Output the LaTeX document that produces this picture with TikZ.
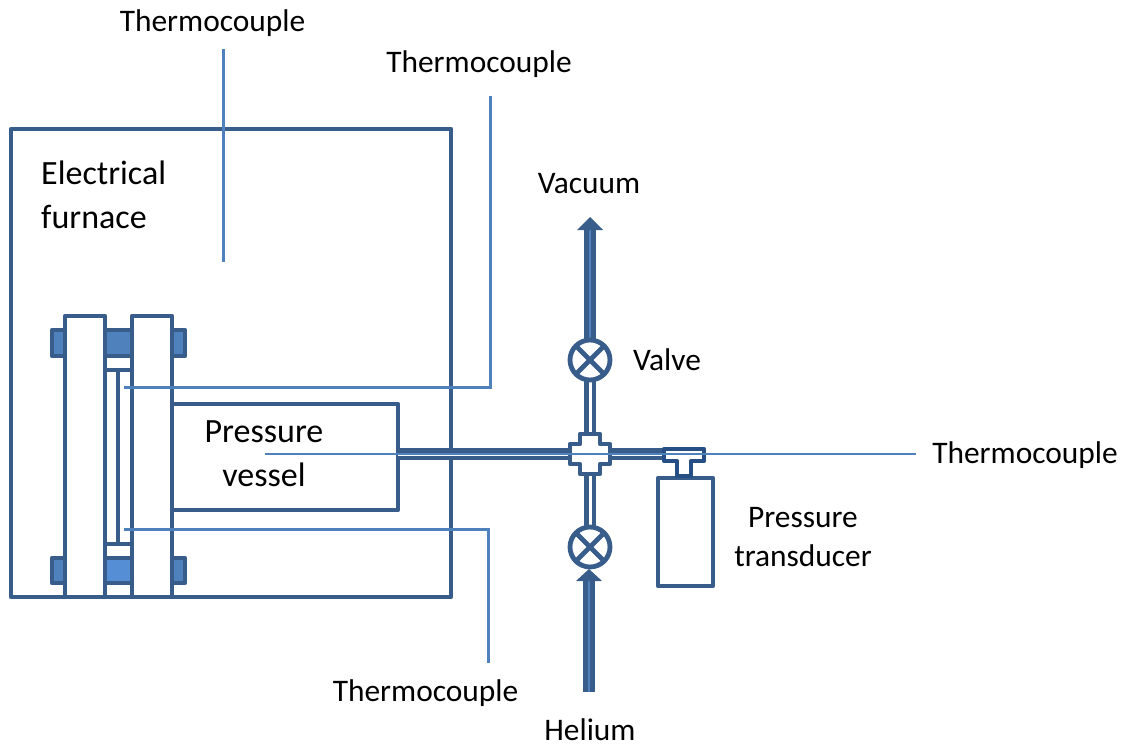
\documentclass[tikz,border=0pt]{standalone}
\usepackage{fontspec}
\setmainfont{Carlito}
\usepackage{tikz}
\definecolor{pipeblue}{HTML}{385D8A}
\definecolor{fillblue}{HTML}{4F81BD}
\definecolor{fillbright}{HTML}{558ED5}
\definecolor{teeblue}{HTML}{254F85}
\tikzset{
  part/.style={draw=pipeblue, line width=4.8pt, line join=round},
  lead/.style={draw=fillblue, line width=3pt},
  thinlead/.style={draw=fillblue, line width=2pt},
  lab/.style={font=\fontsize{31.4}{36}\selectfont, text=black, inner sep=0pt},
  biglab/.style={font=\fontsize{34}{40}\selectfont, text=black, inner sep=0pt},
  pipe/.style={draw=pipeblue, line width=12pt},
  pipecore/.style={draw=white, line width=3pt},
  valve/.style={circle, draw=pipeblue, line width=4.8pt, fill=white, minimum size=40pt, inner sep=0pt},
}
\begin{document}
\begin{tikzpicture}[x=1pt,y=-1pt]
\useasboundingbox (0,0) rectangle (1122,744);

% furnace
\draw[part] (11,129) rectangle (451,597);
\node[biglab, anchor=west] (furnaceA) at (41,173) {Electrical};
\node[biglab, anchor=west] (furnaceB) at (41,217) {furnace};

% bolts
\draw[part, fill=fillblue] (52,330) rectangle (65,356);
\draw[part, fill=fillblue] (105,330) rectangle (132,356);
\draw[part, fill=fillblue] (172,330) rectangle (185,356);
\draw[part, fill=fillblue] (52,558) rectangle (65,583);
\draw[part, fill=fillbright] (105,558) rectangle (132,583);
\draw[part, fill=fillblue] (172,558) rectangle (185,583);

% flanges
\draw[part, fill=white] (65,316) rectangle (105,597);
\draw[part, fill=white] (132,316) rectangle (172,597);
\draw[part] (105,370) rectangle (132,544);
\draw[part] (118,370) -- (118,544);

% vessel
\draw[part] (172,404) rectangle (398,510);
\node[biglab] (vesselA) at (264,432) {Pressure};
\node[biglab] (vesselB) at (264,475) {vessel};

% lines
\coordinate (pipeL) at (398,454);
\coordinate (pipeR) at (664,454);
\coordinate (vacTop) at (590,228);
\coordinate (heBot) at (589,692);
\coordinate (heTop) at (589,580);
\coordinate (crossC) at (590,454);
\draw[pipe] (pipeL) -- (pipeR);
\draw[pipecore] (pipeL) -- (pipeR);
\draw[pipe] (vacTop) -- (crossC);
\draw[pipecore] (590,340) -- (crossC);
\draw[draw=fillblue, line width=2pt] (vacTop) -- (590,340);
\draw[pipe] (crossC) -- (590,547);
\draw[pipecore] (crossC) -- (590,547);
\draw[pipe] (heBot) -- (heTop);
\draw[draw=fillblue, line width=2pt] (heBot) -- (heTop);
\fill[pipeblue] (590,217) -- (603,230) -- (577,230) -- cycle;
\fill[pipeblue] (589,569) -- (602,581) -- (576,581) -- cycle;

% cross
\draw[part, fill=white] (570,444) -- (580,444) -- (580,434) -- (600,434) -- (600,444) -- (610,444)
  -- (610,464) -- (600,464) -- (600,474) -- (580,474) -- (580,464) -- (570,464) -- cycle;

% valves
\node[valve, path picture={
  \draw[pipeblue, line width=4.8pt] (path picture bounding box.north west) -- (path picture bounding box.south east);
  \draw[pipeblue, line width=4.8pt] (path picture bounding box.north east) -- (path picture bounding box.south west);
}] (valveTop) at (590,360) {};
\node[valve, path picture={
  \draw[pipeblue, line width=4.8pt] (path picture bounding box.north west) -- (path picture bounding box.south east);
  \draw[pipeblue, line width=4.8pt] (path picture bounding box.north east) -- (path picture bounding box.south west);
}] (valveBot) at (590,547) {};

% transducer
\draw[part] (658,478) rectangle (713,586);
\draw[draw=teeblue, line width=4.8pt, line join=round, fill=white] (664,449) -- (704,449) -- (704,461) -- (691,461) -- (691,476) -- (677,476) -- (677,461) -- (664,461) -- cycle;

% thermocouples
\coordinate (tcAa) at (223,49);
\coordinate (tcAb) at (223,262);
\coordinate (tcBa) at (490,96);
\coordinate (tcBb) at (490,387);
\coordinate (tcBc) at (124,387);
\coordinate (tcCa) at (488,663);
\coordinate (tcCb) at (488,529);
\coordinate (tcCc) at (124,529);
\coordinate (tcDa) at (916,454);
\coordinate (tcDb) at (265,454);
\draw[lead] (tcAa) -- (tcAb);
\draw[lead] (tcBa) -- (tcBb) -- (tcBc);
\draw[lead] (tcCa) -- (tcCb) -- (tcCc);
\draw[thinlead] (tcDa) -- (tcDb);

% labels
\node[lab] (thermoA) at (212.5,23) {Thermocouple};
\node[lab] (thermoB) at (479,64) {Thermocouple};
\node[lab] (thermoC) at (425.5,693) {Thermocouple};
\node[lab] (thermoD) at (1025,455) {Thermocouple};
\node[lab] (vacuum) at (589,184) {Vacuum};
\node[lab] (valveLab) at (667,360) {Valve};
\node[lab] (helium) at (590,730) {Helium};
\node[lab] (transA) at (803,518) {Pressure};
\node[lab] (transB) at (803,556) {transducer};
\end{tikzpicture}
\end{document}
